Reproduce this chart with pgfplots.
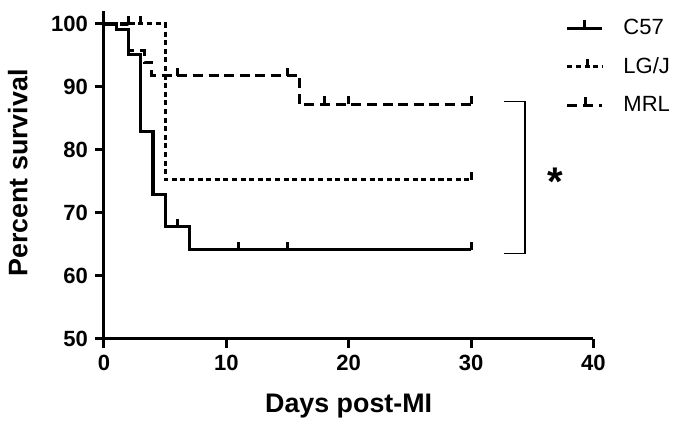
\documentclass[border=0pt]{standalone}
\usepackage{fontspec}
\setmainfont{Liberation Sans}
\usepackage{pgfplots}
\pgfplotsset{compat=1.18}

% censoring mark: a short upward stroke
\pgfdeclareplotmark{cens}{%
  \pgfpathmoveto{\pgfqpoint{0pt}{0pt}}%
  \pgfpathlineto{\pgfqpoint{0pt}{\pgfplotmarksize}}%
  \pgfusepathqstroke}

\begin{document}
\begin{tikzpicture}
\begin{axis}[
    scale only axis,
    width=244.5pt, height=163.5pt,
    xmin=0, xmax=40, ymin=50, ymax=102,
    axis lines=left,
    axis line style={-, line width=1.5pt},
    xtick={0,10,...,40}, ytick={50,60,...,100},
    tick style={line width=1.5pt, black},
    tick align=outside,
    major tick length=4.5pt,
    /pgf/number format/assume math mode=true,
    tick label style={font=\fontsize{11}{13}\selectfont\bfseries},
    xlabel={Days post-MI}, ylabel={Percent survival},
    label style={font=\fontsize{13.4}{16}\selectfont\bfseries},
    xlabel style={at={(rel axis cs:0.5,-0.225)}, anchor=base},
    ylabel style={at={(rel axis cs:-0.176,0.506)}, anchor=center},
    clip=false,
    legend style={at={(rel axis cs:0.943,0.99)}, anchor=north west, draw=none, fill=none,
        inner sep=0pt, font=\fontsize{11}{13}\selectfont, row sep=6pt},
    legend cell align=left,
]
% frame of the whole picture
\path (axis cs:-8.5,35.7) rectangle (axis cs:47.0,103.8);
% C57
\addplot[const plot, line width=1.6pt, black, forget plot] coordinates {
    (0,100) (1,99.1) (2,95.2) (3,82.9) (4,72.9) (5,67.8) (7,64.1) (30,64.1)
};
% LG/J
\addplot[const plot, line width=1.5pt, black, dash pattern=on 2.5pt off 1.8pt, forget plot] coordinates {
    (0,100) (5,75.2) (30,75.2)
};
% MRL
\addplot[const plot, line width=1.6pt, black, dash pattern=on 5pt off 2.8pt, forget plot] coordinates {
    (0,100) (2,95.8) (3.3,93.9) (3.9,91.8) (16,87.2) (30,87.2)
};
% censored observations
\addplot[only marks, mark=cens, mark size=4pt, line width=1.5pt, black, forget plot] coordinates {
    (6,67.8) (11,64.1) (15,64.1) (30,64.1)
};
\addplot[only marks, mark=cens, mark size=4pt, line width=1.5pt, black, forget plot] coordinates {
    (2,100) (3,100) (30,75.2)
};
\addplot[only marks, mark=cens, mark size=4pt, line width=1.5pt, black, forget plot] coordinates {
    (6,91.8) (15,91.8) (18,87.2) (20,87.2) (30,87.2)
};
% legend
\addlegendimage{legend image code/.code={
    \path[draw=none] (0pt,0pt) -- (26pt,0pt);
    \draw[line width=1.5pt] (0pt,0pt) -- (17.5pt,0pt);
    \draw[line width=1.5pt] (8.75pt,0pt) -- (8.75pt,4pt);}}
\addlegendentry{C57}
\addlegendimage{legend image code/.code={
    \path[draw=none] (0pt,0pt) -- (26pt,0pt);
    \draw[line width=1.5pt, dash pattern=on 2.5pt off 1.8pt] (0pt,0pt) -- (17.5pt,0pt);
    \draw[line width=1.5pt] (10pt,0pt) -- (10pt,4pt);}}
\addlegendentry{LG/J}
\addlegendimage{legend image code/.code={
    \path[draw=none] (0pt,0pt) -- (26pt,0pt);
    \draw[line width=1.5pt, dash pattern=on 5pt off 2.8pt] (0pt,0pt) -- (17.5pt,0pt);
    \draw[line width=1.5pt] (9pt,0pt) -- (9pt,4pt);}}
\addlegendentry{MRL}
% significance bracket
\draw[line width=0.75pt] (axis cs:32.7,87.7) -- (axis cs:34.4,87.7) -- (axis cs:34.4,63.5) -- (axis cs:32.7,63.5);
\node[font=\fontsize{20}{20}\selectfont\bfseries] at (axis cs:36.9,75.0) {*};
\end{axis}
\end{tikzpicture}
\end{document}
